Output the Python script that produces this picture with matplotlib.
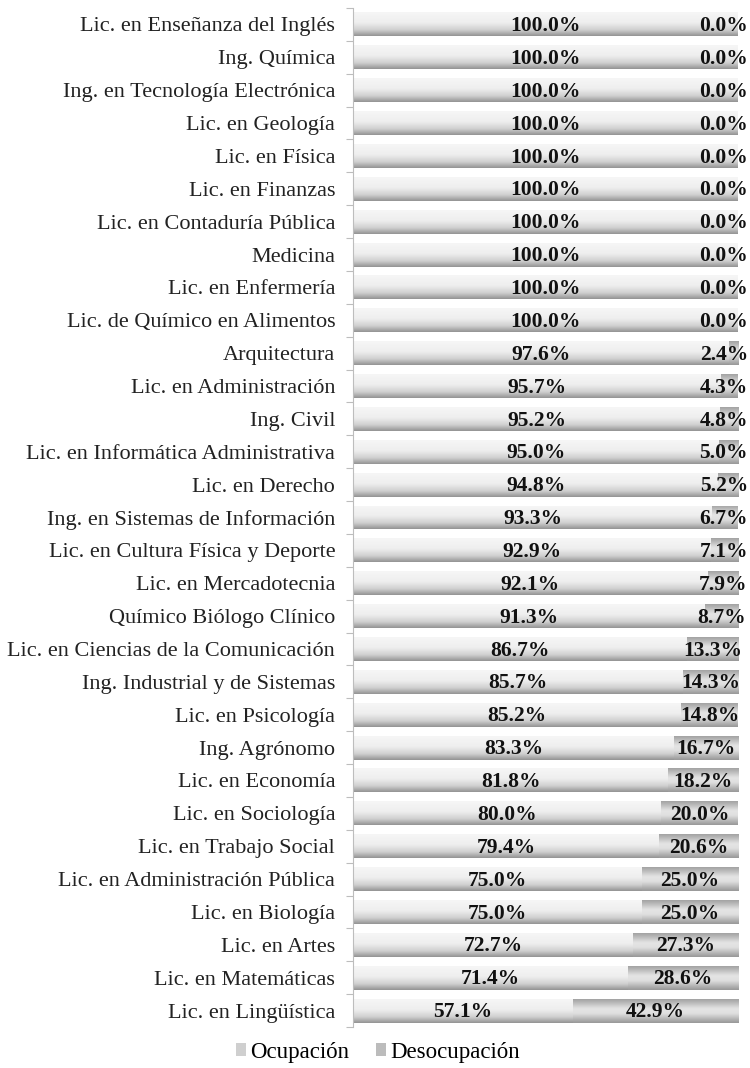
import numpy as np
import matplotlib.pyplot as plt
from matplotlib.colors import LinearSegmentedColormap
from matplotlib.patches import Patch

plt.rcParams['font.family'] = ['Liberation Serif', 'DejaVu Serif']

carreras = [
    "Lic. en Enseñanza del Inglés", "Ing. Química", "Ing. en Tecnología Electrónica",
    "Lic. en Geología", "Lic. en Física", "Lic. en Finanzas",
    "Lic. en Contaduría Pública", "Medicina", "Lic. en Enfermería",
    "Lic. de Químico en Alimentos", "Arquitectura", "Lic. en Administración",
    "Ing. Civil", "Lic. en Informática Administrativa", "Lic. en Derecho",
    "Ing. en Sistemas de Información", "Lic. en Cultura Física y Deporte",
    "Lic. en Mercadotecnia", "Químico Biólogo Clínico",
    "Lic. en Ciencias de la Comunicación", "Ing. Industrial y de Sistemas",
    "Lic. en Psicología", "Ing. Agrónomo", "Lic. en Economía",
    "Lic. en Sociología", "Lic. en Trabajo Social",
    "Lic. en Administración Pública", "Lic. en Biología", "Lic. en Artes",
    "Lic. en Matemáticas", "Lic. en Lingüística",
]
ocupacion = [100.0, 100.0, 100.0, 100.0, 100.0, 100.0, 100.0, 100.0, 100.0, 100.0,
             97.6, 95.7, 95.2, 95.0, 94.8, 93.3, 92.9, 92.1, 91.3, 86.7,
             85.7, 85.2, 83.3, 81.8, 80.0, 79.4, 75.0, 75.0, 72.7, 71.4, 57.1]
desocupacion = [0.0, 0.0, 0.0, 0.0, 0.0, 0.0, 0.0, 0.0, 0.0, 0.0,
                2.4, 4.3, 4.8, 5.0, 5.2, 6.7, 7.1, 7.9, 8.7, 13.3,
                14.3, 14.8, 16.7, 18.2, 20.0, 20.6, 25.0, 25.0, 27.3, 28.6, 42.9]

fig = plt.figure(figsize=(7.5, 10.68), dpi=100)
ax = fig.add_axes([0.471, 0.0384, 0.513, 0.9541])

y = np.arange(len(carreras))
bars_o = ax.barh(y, ocupacion, height=0.73, color='#dcdcdc', linewidth=0)
bars_d = ax.barh(y, desocupacion, left=ocupacion, height=0.73, color='#c8c8c8', linewidth=0)

# degradados tipo Excel (arriba -> abajo)
cm_o = LinearSegmentedColormap.from_list('o', [(0, '#f6f6f6'), (0.45, '#eeeeee'), (0.75, '#cfcfcf'), (1, '#939393')])
cm_d = LinearSegmentedColormap.from_list('d', [(0, '#a2a2a2'), (0.4, '#e4e4e4'), (0.6, '#e0e0e0'), (1, '#989898')])
grad = np.linspace(0, 1, 64).reshape(-1, 1)
for bars, cm in [(bars_o, cm_o), (bars_d, cm_d)]:
    for b in bars:
        x0, y0 = b.get_x(), b.get_y()
        w, h = b.get_width(), b.get_height()
        if w <= 0:
            continue
        im = ax.imshow(grad, cmap=cm, aspect='auto', extent=[x0, x0 + w, y0 + h, y0],
                       origin='upper', interpolation='bicubic', zorder=2)
        im.set_clip_path(b)

ax.set_xlim(0, 100)
ax.set_ylim(len(carreras) - 0.5, -0.5)

labels_d = []
for i in range(len(carreras)):
    ax.text(ocupacion[i] / 2, i + 0.05, f"{ocupacion[i]:.1f}%", ha='center', va='center',
            fontsize=15.5, fontweight='bold', color='#111111', zorder=3)
    t = ax.text(ocupacion[i] + desocupacion[i] / 2, i + 0.05, f"{desocupacion[i]:.1f}%",
                ha='center', va='center', fontsize=15.5, fontweight='bold',
                color='#111111', zorder=3)
    labels_d.append(t)

ax.set_yticks(np.arange(len(carreras) + 1) - 0.5, minor=False)
ax.set_yticklabels([])
ax.set_yticks(y, minor=True)
ax.set_yticklabels(carreras, minor=True, fontsize=16, color='#222222')
ax.tick_params(axis='y', which='minor', length=0, pad=13)
ax.tick_params(axis='y', which='major', length=5, color='#bdbdbd')
ax.set_xticks([])
for s in ['top', 'right', 'bottom']:
    ax.spines[s].set_visible(False)
ax.spines['left'].set_color('#bdbdbd')

# mantener las etiquetas de desocupación dentro de la figura
renderer = fig.canvas.get_renderer()
inv = ax.transData.inverted()
for t in labels_d:
    bb = t.get_window_extent(renderer)
    if bb.x1 > 748:
        shift = inv.transform((bb.x1, 0))[0] - inv.transform((748, 0))[0]
        x, yy = t.get_position()
        t.set_position((x - shift, yy))

handles = [Patch(facecolor='#cfcfcf', edgecolor='none', label='Ocupación'),
           Patch(facecolor='#bcbcbc', edgecolor='none', label='Desocupación')]
fig.legend(handles=handles, loc='center', bbox_to_anchor=(0.504, 0.0148), ncol=2,
           frameon=False, fontsize=16.5, handlelength=0.45, handleheight=0.45,
           handletextpad=0.2, columnspacing=1.15, borderpad=0.1)

fig.savefig('out.png', dpi=100)
